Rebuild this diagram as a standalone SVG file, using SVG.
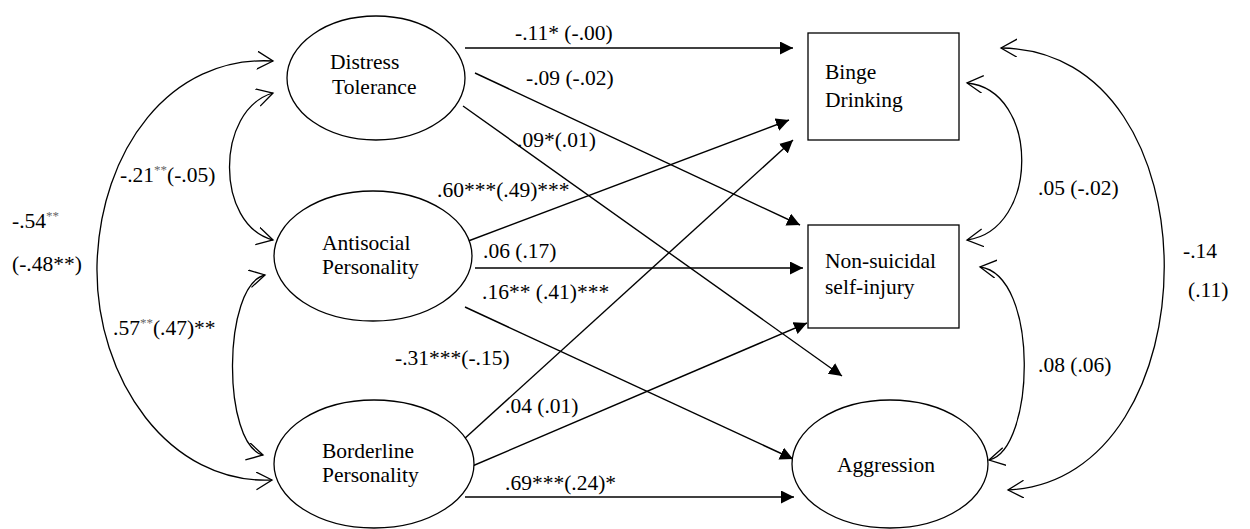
<svg xmlns="http://www.w3.org/2000/svg" width="1250" height="529" viewBox="0 0 1250 529">
<style>
text{font-family:'Liberation Serif','DejaVu Serif',serif;font-size:21.5px;fill:#000}
.sup{font-size:13px;fill:#666}
.node{fill:#fff;stroke:#000;stroke-width:1.3}
.path{fill:none;stroke:#000;stroke-width:1.4}
.cov{fill:none;stroke:#000;stroke-width:1.3}
</style>
<defs>
<marker id="fa" markerUnits="userSpaceOnUse" markerWidth="14" markerHeight="14" refX="13" refY="6.5" orient="auto"><path d="M0,0 L13,6.5 L0,13 z" fill="#000"/></marker>
<marker id="oa" markerUnits="userSpaceOnUse" markerWidth="18" markerHeight="20" refX="16" refY="9" orient="auto-start-reverse"><path d="M0,0 L16,9 L0,18" fill="none" stroke="#000" stroke-width="1.3"/></marker>
</defs>
<rect width="1250" height="529" fill="#fff"/>
<g id="connectors">
<line class="path" x1="465" y1="48" x2="793" y2="48" marker-end="url(#fa)"/>
<line class="path" x1="475" y1="73" x2="800" y2="225" marker-end="url(#fa)"/>
<line class="path" x1="463" y1="106" x2="842" y2="376" marker-end="url(#fa)"/>
<line class="path" x1="463" y1="243" x2="789" y2="120" marker-end="url(#fa)"/>
<line class="path" x1="475" y1="268" x2="803" y2="268" marker-end="url(#fa)"/>
<line class="path" x1="465" y1="307" x2="793" y2="459" marker-end="url(#fa)"/>
<line class="path" x1="463" y1="440" x2="793" y2="140" marker-end="url(#fa)"/>
<line class="path" x1="470" y1="467" x2="807" y2="323" marker-end="url(#fa)"/>
<line class="path" x1="465" y1="497" x2="794" y2="497" marker-end="url(#fa)"/>
<path class="cov" d="M273 93 C215 110,215 225,273 240" marker-start="url(#oa)" marker-end="url(#oa)"/>
<path class="cov" d="M273 61 C170 55,100 150,97 265 C95 380,170 485,272 480" marker-start="url(#oa)" marker-end="url(#oa)"/>
<path class="cov" d="M265 275 C222 285,222 445,263 455" marker-start="url(#oa)" marker-end="url(#oa)"/>
<path class="cov" d="M967 83 C1040 90,1040 230,967 240" marker-start="url(#oa)" marker-end="url(#oa)"/>
<path class="cov" d="M980 267 C1040 275,1035 450,989 460" marker-start="url(#oa)" marker-end="url(#oa)"/>
<path class="cov" d="M1001 48 C1220 50,1215 480,1008 490" marker-start="url(#oa)" marker-end="url(#oa)"/>
<text x="515" y="40">-.11* (-.00)</text>
<text x="526" y="85">-.09 (-.02)</text>
<text x="517" y="147">.09*(.01)</text>
<text x="437" y="197">.60***(.49)***</text>
<text x="483" y="258">.06 (.17)</text>
<text x="482" y="299">.16** (.41)***</text>
<text x="395" y="365">-.31***(-.15)</text>
<text x="505" y="413">.04 (.01)</text>
<text x="505" y="490">.69***(.24)*</text>
<text x="120" y="182">-.21<tspan class="sup" dy="-8">**</tspan><tspan dy="8">(-.05)</tspan></text>
<text x="12" y="228">-.54<tspan class="sup" dy="-8">**</tspan></text>
<text x="12" y="271">(-.48**)</text>
<text x="113" y="335">.57<tspan class="sup" dy="-8">**</tspan><tspan dy="8">(.47)**</tspan></text>
<text x="1038" y="195">.05 (-.02)</text>
<text x="1038" y="372">.08 (.06)</text>
<text x="1183" y="258">-.14</text>
<text x="1188" y="297">(.11)</text>
</g>
<g id="distress">
<ellipse class="node" cx="376" cy="78" rx="89" ry="62"/>
<text x="330" y="69">Distress</text>
<text x="332" y="94">Tolerance</text>
</g>
<g id="antisocial">
<ellipse class="node" cx="373" cy="256" rx="99" ry="65"/>
<text x="322" y="250">Antisocial</text>
<text x="322" y="274">Personality</text>
</g>
<g id="borderline">
<ellipse class="node" cx="374" cy="464" rx="100" ry="64"/>
<text x="322" y="458">Borderline</text>
<text x="322" y="482">Personality</text>
</g>
<g id="binge">
<rect class="node" x="808" y="33" width="151" height="107"/>
<text x="825" y="79">Binge</text>
<text x="825" y="107">Drinking</text>
</g>
<g id="nssi">
<rect class="node" x="808" y="225" width="151" height="103"/>
<text x="825" y="268">Non-suicidal</text>
<text x="825" y="294">self-injury</text>
</g>
<g id="aggression">
<ellipse class="node" cx="890" cy="464" rx="98" ry="64"/>
<text x="837" y="472">Aggression</text>
</g>
</svg>
